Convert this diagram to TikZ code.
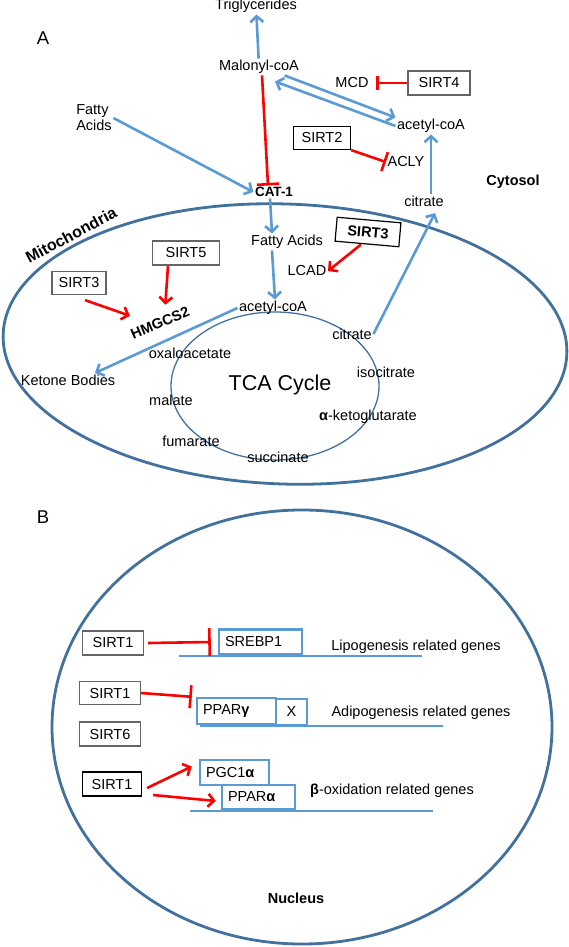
\documentclass[tikz,border=0pt]{standalone}
\usepackage{fontspec}
\setmainfont{Liberation Sans}
\usetikzlibrary{arrows.meta}
\definecolor{flowblue}{RGB}{91,155,213}
\definecolor{wallblue}{RGB}{65,113,156}
\definecolor{boxgray}{RGB}{100,100,100}
\newcommand{\lab}{\fontsize{14.5}{16}\selectfont}

\begin{document}
\begin{tikzpicture}[x=1pt, y=-1pt, font=\lab,
	lbl/.style={inner sep=1.5pt},
	flow/.style={draw=flowblue, line width=2.6pt, -{Straight Barb[length=6pt,width=13pt]}},
	act/.style={draw=red, line width=2.6pt, -{Straight Barb[length=6pt,width=13pt]}},
	inhib/.style={draw=red, line width=2.6pt, -{Bar[width=22pt]}},
	sirt/.style={draw=boxgray, line width=1.2pt, fill=white, minimum height=24pt, inner sep=1pt},
	gene/.style={draw=flowblue, line width=2.4pt, fill=white, minimum height=25pt, inner xsep=6pt, text width=#1, align=left},
	dna/.style={draw=flowblue, line width=2pt},
	wall/.style={draw=wallblue, line width=2.8pt},
	tca/.style={draw=wallblue, line width=1.3pt}]
		%%%%% START %%%%%
		\useasboundingbox (0, 0) rectangle (569, 947);
		
		% A: cytosol
		\node[font=\fontsize{18.5}{20}\selectfont] (labA) at (43, 38) {A};
		\node[lbl] (trig) at (256, 6) {Triglycerides};
		\node[lbl] (malonyl) at (259, 67) {Malonyl-coA};
		\node[lbl, align=left] (fattyc) at (94, 118) {Fatty\\Acids};
		\node[lbl, font=\fontsize{13.5}{16}\selectfont\bfseries] (cat) at (274, 192) {CAT-1};
		\node[lbl] (mcd) at (352, 83) {MCD};
		\node[sirt, minimum width=62pt] (sirtfour) at (439, 83) {SIRT4};
		\node[lbl] (acc) at (431, 126) {acetyl-coA};
		\node[sirt, draw=black, minimum width=57pt, minimum height=23pt] (sirttwo) at (322, 138) {SIRT2};
		\node[lbl] (acly) at (406, 162) {ACLY};
		\node[lbl, font=\lab\bfseries] (cytosol) at (513, 182) {Cytosol};
		\node[lbl] (citc) at (424, 201) {citrate};
		
		% A: mitochondria
		\draw[wall, rotate around={-2:(285,344)}] (285, 344) ellipse [x radius=282, y radius=140];
		\draw[tca] (275, 386) ellipse [x radius=104, y radius=74];
		\node[lbl, font=\fontsize{16}{18}\selectfont\bfseries, rotate=28] (mitolab) at (71, 235) {Mitochondria};
		\node[lbl] (fattym) at (287, 242) {Fatty Acids};
		\node[sirt, draw=black, minimum width=64pt, rotate=-5, font=\lab\bfseries] (sirtthreeb) at (368, 232) {SIRT3};
		\node[lbl] (lcad) at (307, 271) {LCAD};
		\node[lbl] (acm) at (273, 308) {acetyl-coA};
		\node[sirt, minimum width=54pt, minimum height=23pt] (sirtthree) at (79, 283) {SIRT3};
		\node[sirt, minimum width=67pt] (sirtfive) at (186, 253) {SIRT5};
		\node[lbl, font=\lab\bfseries, rotate=23] (hmgcs) at (160, 323) {HMGCS2};
		\node[lbl] (ketone) at (68, 380) {Ketone Bodies};
		\node[lbl] (oxa) at (190, 353) {oxaloacetate};
		\node[lbl] (mal) at (171, 400) {malate};
		\node[lbl] (fum) at (191, 441) {fumarate};
		\node[lbl] (succ) at (278, 457) {succinate};
		\node[lbl] (akg) at (368, 417) {\textbf{α}-ketoglutarate};
		\node[lbl] (isocit) at (386, 372) {isocitrate};
		\node[lbl] (citm) at (352, 334) {citrate};
		\node[font=\fontsize{21.5}{24}\selectfont] (tcalab) at (280, 385) {TCA Cycle};
		
		\draw[flow] (malonyl) -- (trig);
		\draw[inhib] ([xshift=3pt]malonyl.south) -- ([xshift=-6pt]cat.north);
		\draw[flow] (fattyc.east) -- (cat.west);
		\draw[flow] ([xshift=-16pt]malonyl.south east) -- (acc.north west);
		\draw[flow] (acc.west) -- ([xshift=16pt,yshift=-6pt]malonyl.south);
		\draw[inhib, -{Bar[width=14pt]}] (sirtfour.west) -- ([xshift=6pt]mcd.east);
		\draw[inhib, -{Bar[width=20pt]}] (sirttwo.south east) -- (acly.west);
		\draw[flow] (citc.north -| acc.south) -- (acc.south);
		\draw[flow] (citm.east) -- ([xshift=11pt,yshift=-5pt]citc.south);
		
		\draw[flow] ([xshift=-4pt]cat.south) -- ([xshift=-15pt]fattym.north);
		\draw[flow] ([xshift=-15pt]fattym.south) -- ([xshift=2pt]acm.north);
		\draw[flow] (acm.west) -- ([xshift=27pt]ketone.north);
		\draw[act] ([xshift=-6pt]sirtthreeb.south) -- (lcad.east);
		\draw[act] ([xshift=-18pt]sirtfive.south) -- ([xshift=8pt,yshift=12pt]hmgcs.north);
		\draw[act] ([xshift=6pt,yshift=-5pt]sirtthree.south) -- ([yshift=20pt]hmgcs.west);
		
		% B: nucleus
		\node[font=\fontsize{18.5}{20}\selectfont] (labB) at (43, 517) {B};
		\draw[wall] (302, 727) ellipse [x radius=250, y radius=217];
		
		\draw[dna] (179, 656) -- (422, 656);
		\draw[dna] (200, 726) -- (443, 726);
		\draw[dna] (190, 811) -- (433, 811);
		
		\node[gene=71pt] (srebp) at (260.5, 642) {SREBP1};
		\node[gene=67pt, minimum height=26pt] (ppg) at (236.5, 711) {PPAR\textbf{γ}};
		\node[gene=19pt, minimum height=26pt, align=center] (xbox) at (291.5, 712) {X};
		\node[gene=57pt] (pgc) at (234.5, 772.5) {PGC1\textbf{α}};
		\node[gene=61pt, minimum height=24pt] (ppa) at (258.5, 797) {PPAR\textbf{α}};
		
		\node[lbl] (lipo) at (416, 647) {Lipogenesis related genes};
		\node[lbl] (adipo) at (421, 713) {Adipogenesis related genes};
		\node[lbl] (betaox) at (392, 791) {\textbf{β}-oxidation related genes};
		
		\node[sirt, minimum width=61pt] (sirtonea) at (113, 643) {SIRT1};
		\node[sirt, minimum width=61pt, minimum height=23pt] (sirtoneb) at (110, 693) {SIRT1};
		\node[sirt, minimum width=61pt] (sirtsix) at (110, 734) {SIRT6};
		\node[sirt, draw=black, minimum width=59pt] (sirtonec) at (112, 784) {SIRT1};
		
		\draw[inhib, -{Bar[width=28pt]}] ([xshift=4pt]sirtonea.east) -- ([xshift=-7pt]srebp.west);
		\draw[inhib, -{Bar[width=23pt]}] (sirtoneb.east) -- ([xshift=-4pt]ppg.north west);
		\draw[act] ([xshift=5pt,yshift=-4pt]sirtonec.east) -- ([xshift=-7pt,yshift=6pt]pgc.west);
		\draw[act] ([xshift=11pt,yshift=-11pt]sirtonec.east) -- ([xshift=-5pt,yshift=-4pt]ppa.west);
		
		\node[lbl, font=\lab\bfseries] (nucleus) at (296, 898) {Nucleus};
		%%%%% END %%%%%
	\end{tikzpicture}
\end{document}
